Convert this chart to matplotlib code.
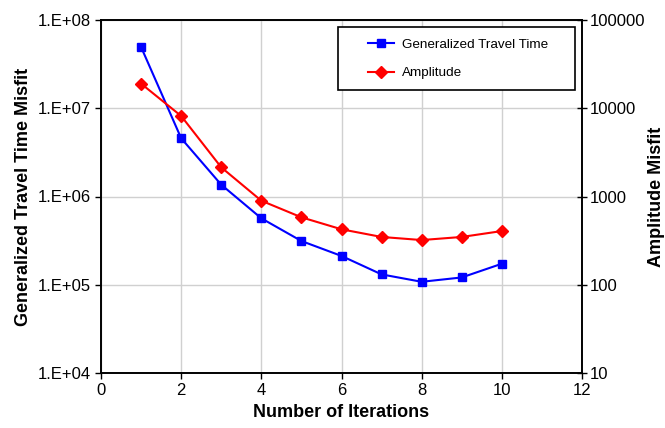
import numpy as np
import matplotlib.pyplot as plt
from matplotlib.patches import Rectangle

plt.rcParams['font.family'] = ['Liberation Sans', 'DejaVu Sans']

iterations = [1, 2, 3, 4, 5, 6, 7, 8, 9, 10]
travel_time_misfit = [4.94e7, 4.57e6, 1.36e6, 5.66e5, 3.13e5, 2.12e5, 1.31e5, 1.08e5, 1.21e5, 1.73e5]
amplitude_misfit = [19000, 8170, 2140, 896, 581, 425, 348, 321, 348, 406]

left_ticks = [1e4, 1e5, 1e6, 1e7, 1e8]
left_labels = ["1.E+04", "1.E+05", "1.E+06", "1.E+07", "1.E+08"]
right_ticks = [10, 100, 1000, 10000, 100000]
right_labels = ["10", "100", "1000", "10000", "100000"]

fig = plt.figure(figsize=(6.65, 4.28), dpi=100)
ax = fig.add_axes([101 / 665, 1 - 373 / 428, (582 - 101) / 665, (373 - 20) / 428])
ax2 = ax.twinx()

ax.set_yscale("log")
ax.set_ylim(1e4, 1e8)
ax.set_xlim(0, 12)
ax.set_xticks(range(0, 13, 2))
ax.set_yticks(left_ticks)
ax.set_yticklabels(left_labels)
ax.yaxis.set_minor_locator(plt.NullLocator())
ax.grid(True, color="#d0d0d0", linewidth=1)
ax.set_axisbelow(True)

ax2.set_yscale("log")
ax2.set_ylim(10, 1e5)
ax2.set_yticks(right_ticks)
ax2.set_yticklabels(right_labels)
ax2.yaxis.set_minor_locator(plt.NullLocator())

l1, = ax.plot(iterations, travel_time_misfit, color="blue", marker="s", markersize=6,
              linewidth=1.5, label="Generalized Travel Time")
l2, = ax2.plot(iterations, amplitude_misfit, color="red", marker="D", markersize=6,
               linewidth=1.5, label="Amplitude")

for a in (ax, ax2):
    for s in a.spines.values():
        s.set_color("black")
        s.set_linewidth(1.2)
ax.tick_params(axis="both", labelsize=12, direction="out", length=4, width=1)
ax2.tick_params(axis="y", labelsize=12, direction="inout", length=7, width=1, pad=2)

ax.set_xlabel("Number of Iterations", fontsize=13, fontweight="bold")
ax.set_ylabel("Generalized Travel Time Misfit", fontsize=13, fontweight="bold")
ax2.set_ylabel("Amplitude Misfit", fontsize=13, fontweight="bold", labelpad=2)

# legend box drawn separately to get the wide padding of the original
ax2.add_patch(Rectangle((0.4927, 0.8017), 0.4927, 0.1783, transform=ax2.transAxes,
                        facecolor="white", edgecolor="black", linewidth=1.2, zorder=5))
leg = ax2.legend(handles=[l1, l2], loc="upper left", bbox_to_anchor=(0.555, 0.947),
                 fontsize=9.7, frameon=False, borderpad=0, borderaxespad=0,
                 handlelength=1.9, handletextpad=0.6, labelspacing=1.17)
leg.set_zorder(6)

fig.savefig("out.png", dpi=100)
